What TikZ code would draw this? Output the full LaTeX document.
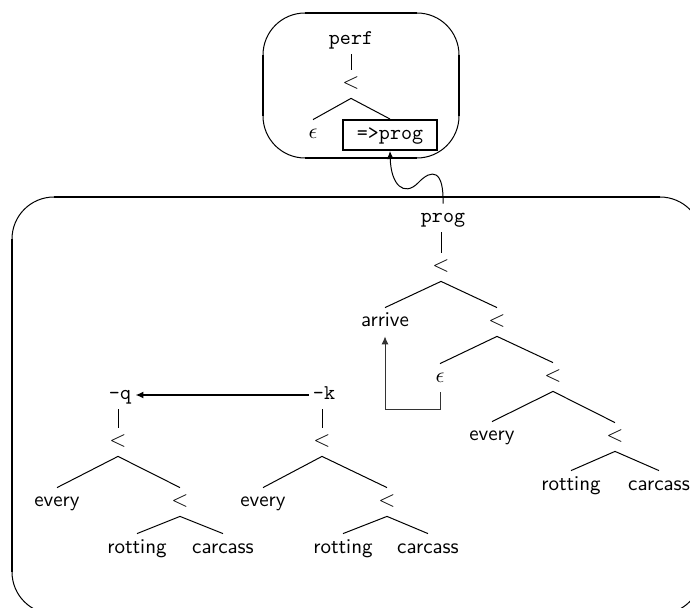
\documentclass[tikz,border=0pt]{standalone}
\usetikzlibrary{arrows.meta}
\begin{document}
\begin{tikzpicture}[x=0.5pt,y=-0.5pt,
  basenode/.style={inner xsep=2pt, inner ysep=2.5pt, text height=7pt, text depth=2pt},
  wordnode/.style={basenode, font=\fontsize{10.5}{12}\selectfont\sffamily},
  ttnode/.style={basenode, font=\fontsize{10.5}{12}\selectfont\ttfamily},
  ltnode/.style={basenode, font=\fontsize{10.5}{12}\selectfont},
  epsnode/.style={basenode, font=\fontsize{10.5}{12}\selectfont},
  branch/.style={line width=0.5pt},
  arcline/.style={line width=0.5pt, rounded corners=21pt},
  straightline/.style={line width=1pt},
  thinarrow/.style={line width=0.5pt, -{Latex[length=4pt,width=3.5pt]}},
  thickarrow/.style={line width=1pt, -{Latex[length=4pt,width=3.5pt]}}]
\useasboundingbox (0,0) rectangle (690,608);
\clip (0,0) rectangle (690,608);

% top box
\draw[arcline] (263,13) rectangle (459,158);
\draw[straightline] (305,13) -- (417,13);
\draw[straightline] (305,158) -- (417,158);
\draw[straightline] (263,55) -- (263,116);
\draw[straightline] (459,55) -- (459,116);

% big box
\draw[arcline] (12,197) rectangle (702,614);
\draw[straightline] (54,197) -- (660,197);
\draw[straightline] (12,239) -- (12,572);

% top tree
\node[ttnode] (perf) at (351,40) {perf};
\node[ltnode] (lt0) at (351,84) {$<$};
\node[epsnode] (eps0) at (313,134) {$\epsilon$};
\node[ttnode, draw, line width=1pt, minimum width=47pt, minimum height=15pt] (progbox) at (390,135) {=>prog};
\draw[branch] (lt0.north |- perf.south) -- (lt0.north);
\draw[branch] (lt0.south) -- (eps0.north);
\draw[branch] (lt0.south) -- (progbox.north);

% main tree
\node[ttnode] (prog) at (443,218) {prog};
\node[ltnode] (lt1) at (441,267) {$<$};
\node[wordnode] (arrive) at (385,322) {arrive};
\node[ltnode] (lt2) at (497,322) {$<$};
\node[epsnode] (eps1) at (440,378) {$\epsilon$};
\node[ltnode] (lt3) at (553,377) {$<$};
\node[wordnode] (every1) at (492,436) {every};
\node[ltnode] (lt4) at (615,437) {$<$};
\node[wordnode] (rot1) at (571,485) {rotting};
\node[wordnode] (car1) at (659,485) {carcass};
\draw[branch] (lt1.north |- prog.south) -- (lt1.north);
\draw[branch] (lt1.south) -- (arrive.north);
\draw[branch] (lt1.south) -- (lt2.north);
\draw[branch] (lt2.south) -- (eps1.north);
\draw[branch] (lt2.south) -- (lt3.north);
\draw[branch] (lt3.south) -- (every1.north);
\draw[branch] (lt3.south) -- (lt4.north);
\draw[branch] (lt4.south) -- (rot1.north);
\draw[branch] (lt4.south) -- (car1.north);

% movement arrows
\draw[thinarrow] (prog.north) .. controls (444,170) and (432,168) .. (418,183)
  .. controls (404,197) and (391,185) .. (progbox.south);
\draw[thinarrow, draw=black!80] (eps1.south) -- ++(0,17) -| (arrive.south);

% -q tree
\node[ttnode] (q) at (120,395) {-q};
\node[ltnode] (lq1) at (118,442) {$<$};
\node[wordnode] (everyq) at (57,502) {every};
\node[ltnode] (lq2) at (180,502) {$<$};
\node[wordnode] (rotq) at (137,548) {rotting};
\node[wordnode] (carq) at (223,548) {carcass};
\draw[branch] (lq1.north |- q.south) -- (lq1.north);
\draw[branch] (lq1.south) -- (everyq.north);
\draw[branch] (lq1.south) -- (lq2.north);
\draw[branch] (lq2.south) -- (rotq.north);
\draw[branch] (lq2.south) -- (carq.north);

% -k tree
\node[ttnode] (k) at (324,395) {-k};
\node[ltnode] (lk1) at (322,442) {$<$};
\node[wordnode] (everyk) at (263,502) {every};
\node[ltnode] (lk2) at (387,502) {$<$};
\node[wordnode] (rotk) at (343,548) {rotting};
\node[wordnode] (cark) at (428,548) {carcass};
\draw[branch] (lk1.north |- k.south) -- (lk1.north);
\draw[branch] (lk1.south) -- (everyk.north);
\draw[branch] (lk1.south) -- (lk2.north);
\draw[branch] (lk2.south) -- (rotk.north);
\draw[branch] (lk2.south) -- (cark.north);

\draw[thickarrow] (k.west) -- (q.east);
\end{tikzpicture}
\end{document}
